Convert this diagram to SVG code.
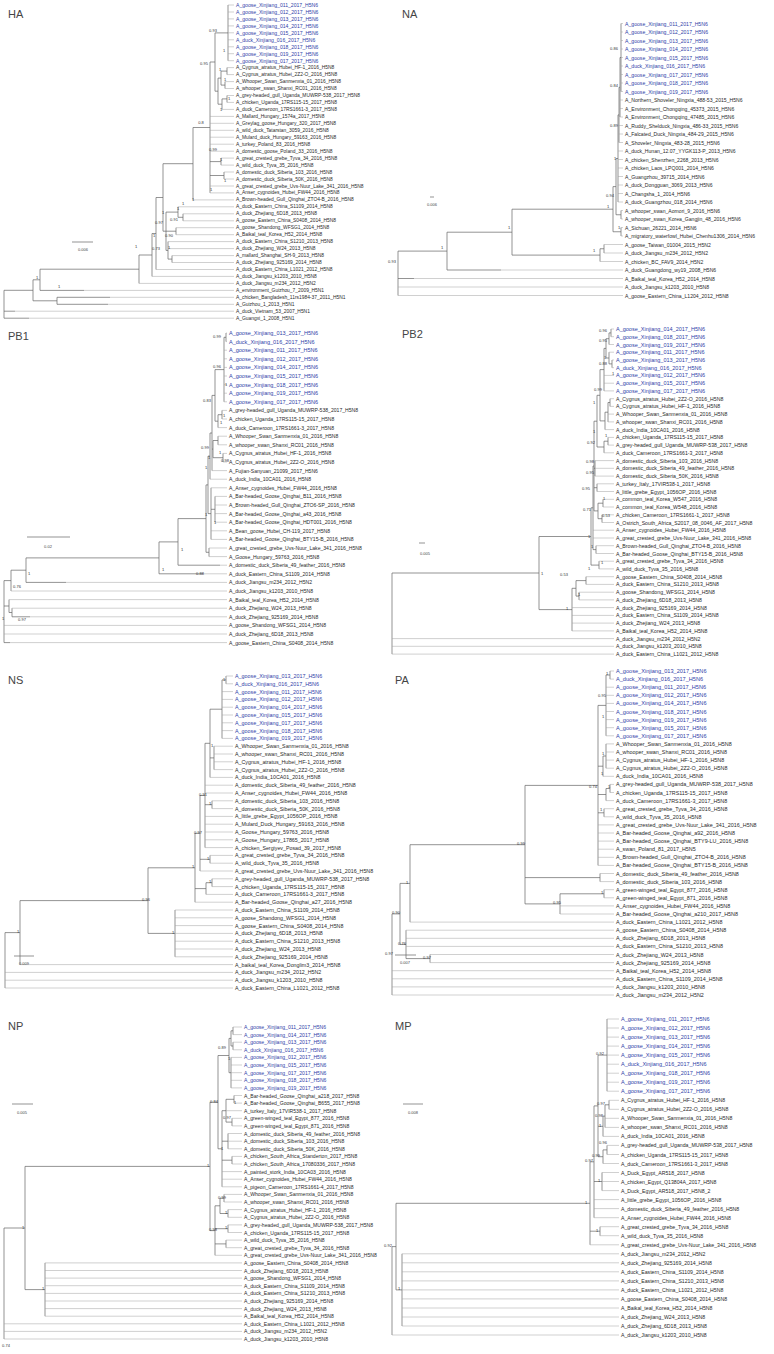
<svg xmlns="http://www.w3.org/2000/svg" width="774" height="1354" viewBox="0 0 774 1354">
<style>
.bg{fill:#fff}
.br{fill:none;stroke:#666;stroke-width:0.7}
.lf{fill:none;stroke:#a0a0a0;stroke-width:0.5}
.tx{font-family:"Liberation Sans",Arial,sans-serif;fill:#2a2a2a;dominant-baseline:central}
.bl{fill:#3041a8}
.sp{font-family:"Liberation Sans",Arial,sans-serif;font-size:4px;fill:#333;text-anchor:middle;dominant-baseline:central}
.sc{font-family:"Liberation Sans",Arial,sans-serif;font-size:4px;fill:#444;text-anchor:middle;dominant-baseline:central}
.ttl{font-family:"Liberation Sans",Arial,sans-serif;font-size:11px;fill:#444}
</style>
<rect class="bg" width="774" height="1354"/>

<!-- ===================== HA ===================== -->
<g id="panel-HA">
<text id="HA-title" class="ttl" x="8" y="18">HA</text>
<g id="HA-edges">
<path class="br" d="M4,290.3V318.2M4,290.3H33M33,279.8V300.8M33,279.8H40M33,300.8H57M40,269.2V290.4M40,269.2H139M57,297.3V304.3M139,255V283.4M139,255H152M152,233.5V276.4M152,233.5H156M156,197.5V269.5M156,197.5H163M163,163.7V231.2M163,163.7H193M163,231.2H166M193,127.5V199.9M193,127.5H210M166,212.1V250.4M166,212.1H178M166,231.2H176M166,250.4H168M178,206.8V217.3M178,217.3H183M183,213.8V220.8M176,227.7V234.7M168,241.6V259.1M168,259.1H172M172,255.6V262.5M210,62V192.9M210,62H215M210,161.6H221M210,175.5H224M221,158.1V165.1M224,172V179M215,32.9V91.2M215,32.9H228M215,91.2H218M228,5V60.7M218,78.1V104.2M218,78.1H221M218,104.2H222M221,71.1V85.1M221,71.1H227M221,85.1H225M227,67.6V74.6M225,81.6V88.5M222,98.9V109.4M222,98.9H227M227,95.5V102.4M40,290.4H84M57,297.3H110M57,304.3H108M4,311.2H15M4,318.2H29"/>
<path class="lf" d="M228,5H234M228,12H234M228,18.9H234M228,25.9H234M228,32.8H234M228,39.8H234M228,46.8H234M228,53.7H234M228,60.7H234M227,67.6H234M227,74.6H234M225,81.6H234M225,88.5H234M227,95.5H234M227,102.4H234M222,109.4H234M210,116.4H234M210,123.3H234M210,130.3H234M210,137.2H234M210,144.2H234M210,151.2H234M221,158.1H234M221,165.1H234M224,172H234M224,179H234M210,186H234M210,192.9H234M193,199.9H234M178,206.8H234M183,213.8H234M183,220.8H234M176,227.7H234M176,234.7H234M168,241.6H234M168,248.6H234M172,255.6H234M172,262.5H234M156,269.5H234M152,276.4H234M139,283.4H234M84,290.4H234M110,297.3H234M108,304.3H234M15,311.2H234M29,318.2H234"/>
</g>
<g id="HA-support">
<text class="sp" x="213" y="30">0.93</text><text class="sp" x="224" y="50">1</text><text class="sp" x="204" y="63">0.95</text><text class="sp" x="220" y="69">1</text><text class="sp" x="225" y="79">1</text><text class="sp" x="229" y="98">1</text><text class="sp" x="201" y="122">0.8</text><text class="sp" x="221" y="109">1</text><text class="sp" x="213" y="149">0.99</text><text class="sp" x="221" y="159">1</text><text class="sp" x="225" y="180">1</text><text class="sp" x="211" y="189">1</text><text class="sp" x="193" y="199">1</text><text class="sp" x="183" y="203">1</text><text class="sp" x="178" y="208">1</text><text class="sp" x="159" y="222">0.97</text><text class="sp" x="174" y="219">0.91</text><text class="sp" x="163" y="212">1</text><text class="sp" x="169" y="235">0.90</text><text class="sp" x="169" y="247">1</text><text class="sp" x="154" y="235">1</text><text class="sp" x="156" y="248">0.73</text><text class="sp" x="136" y="246">1</text><text class="sp" x="37" y="277">1</text><text class="sp" x="59" y="286">1</text>
</g>
<g id="HA-scale"><path class="br" d="M72,242H93"/><text class="sc" x="83" y="249">0.006</text></g>
<g id="HA-taxa" class="tx" font-size="4.9">
<text id="HA-t0" class="bl" font-size="5.1" x="236" y="5">A_goose_Xinjiang_011_2017_H5N6</text>
<text id="HA-t1" class="bl" font-size="5.1" x="236" y="12">A_goose_Xinjiang_012_2017_H5N6</text>
<text id="HA-t2" class="bl" font-size="5.1" x="236" y="18.9">A_goose_Xinjiang_013_2017_H5N6</text>
<text id="HA-t3" class="bl" font-size="5.1" x="236" y="25.9">A_goose_Xinjiang_014_2017_H5N6</text>
<text id="HA-t4" class="bl" font-size="5.1" x="236" y="32.8">A_goose_Xinjiang_015_2017_H5N6</text>
<text id="HA-t5" class="bl" font-size="5.1" x="236" y="39.8">A_duck_Xinjiang_016_2017_H5N6</text>
<text id="HA-t6" class="bl" font-size="5.1" x="236" y="46.8">A_goose_Xinjiang_018_2017_H5N6</text>
<text id="HA-t7" class="bl" font-size="5.1" x="236" y="53.7">A_goose_Xinjiang_019_2017_H5N6</text>
<text id="HA-t8" class="bl" font-size="5.1" x="236" y="60.7">A_goose_Xinjiang_017_2017_H5N6</text>
<text id="HA-t9" x="236" y="67.6">A_Cygnus_atratus_Hubei_HF-1_2016_H5N8</text>
<text id="HA-t10" x="236" y="74.6">A_Cygnus_atratus_Hubei_2Z2-O_2016_H5N8</text>
<text id="HA-t11" x="236" y="81.6">A_Whooper_Swan_Sanmenxia_01_2016_H5N8</text>
<text id="HA-t12" x="236" y="88.5">A_whooper_swan_Shanxi_RC01_2016_H5N8</text>
<text id="HA-t13" x="236" y="95.5">A_grey-headed_gull_Uganda_MUWRP-538_2017_H5N8</text>
<text id="HA-t14" x="236" y="102.4">A_chicken_Uganda_17RS115-15_2017_H5N8</text>
<text id="HA-t15" x="236" y="109.4">A_duck_Cameroon_17RS1661-3_2017_H5N8</text>
<text id="HA-t16" x="236" y="116.4">A_Mallard_Hungary_1574a_2017_H5N8</text>
<text id="HA-t17" x="236" y="123.3">A_Greylag_goose_Hungary_320_2017_H5N8</text>
<text id="HA-t18" x="236" y="130.3">A_wild_duck_Tatarstan_3059_2016_H5N8</text>
<text id="HA-t19" x="236" y="137.2">A_Mulard_duck_Hungary_59163_2016_H5N8</text>
<text id="HA-t20" x="236" y="144.2">A_turkey_Poland_83_2016_H5N8</text>
<text id="HA-t21" x="236" y="151.2">A_domestic_goose_Poland_33_2016_H5N8</text>
<text id="HA-t22" x="236" y="158.1">A_great_crested_grebe_Tyva_34_2016_H5N8</text>
<text id="HA-t23" x="236" y="165.1">A_wild_duck_Tyva_35_2016_H5N8</text>
<text id="HA-t24" x="236" y="172">A_domestic_duck_Siberia_103_2016_H5N8</text>
<text id="HA-t25" x="236" y="179">A_domestic_duck_Siberia_50K_2016_H5N8</text>
<text id="HA-t26" x="236" y="186">A_great_crested_grebe_Uvs-Nuur_Lake_341_2016_H5N8</text>
<text id="HA-t27" x="236" y="192.9">A_Anser_cygnoides_Hubei_FW44_2016_H5N8</text>
<text id="HA-t28" x="236" y="199.9">A_Brown-headed_Gull_Qinghai_ZTO4-B_2016_H5N8</text>
<text id="HA-t29" x="236" y="206.8">A_duck_Eastern_China_S1109_2014_H5N8</text>
<text id="HA-t30" x="236" y="213.8">A_duck_Zhejiang_6D18_2013_H5N8</text>
<text id="HA-t31" x="236" y="220.8">A_goose_Eastern_China_S0408_2014_H5N8</text>
<text id="HA-t32" x="236" y="227.7">A_goose_Shandong_WFSG1_2014_H5N8</text>
<text id="HA-t33" x="236" y="234.7">A_Baikal_teal_Korea_H52_2014_H5N8</text>
<text id="HA-t34" x="236" y="241.6">A_duck_Eastern_China_S1210_2013_H5N8</text>
<text id="HA-t35" x="236" y="248.6">A_duck_Zhejiang_W24_2013_H5N8</text>
<text id="HA-t36" x="236" y="255.6">A_mallard_Shanghai_SH-9_2013_H5N8</text>
<text id="HA-t37" x="236" y="262.5">A_duck_Zhejiang_925169_2014_H5N8</text>
<text id="HA-t38" x="236" y="269.5">A_duck_Eastern_China_L1021_2012_H5N8</text>
<text id="HA-t39" x="236" y="276.4">A_duck_Jiangsu_k1203_2010_H5N8</text>
<text id="HA-t40" x="236" y="283.4">A_duck_Jiangsu_m234_2012_H5N2</text>
<text id="HA-t41" x="236" y="290.4">A_environment_Guizhou_7_2009_H5N1</text>
<text id="HA-t42" x="236" y="297.3">A_chicken_Bangladesh_11rs1984-37_2011_H5N1</text>
<text id="HA-t43" x="236" y="304.3">A_Guizhou_1_2013_H5N1</text>
<text id="HA-t44" x="236" y="311.2">A_duck_Vietnam_53_2007_H5N1</text>
<text id="HA-t45" x="236" y="318.2">A_Guangxi_1_2008_H5N1</text>
</g>
</g>

<!-- ===================== NA ===================== -->
<g id="panel-NA">
<text id="NA-title" class="ttl" x="402" y="18">NA</text>
<g id="NA-edges">
<path class="br" d="M398,251.1V295.5M398,251.1H447M447,232.2V270M447,232.2H512M447,270H501M512,209.2V255.1M512,209.2H613M512,255.1H600M600,248.75V261.5M600,248.75H604M604,244.5V253M613,186.6V231.75M613,186.6H616M613,231.75H621M621,227.5V236M616,158.5V214.75M616,158.5H618M616,214.75H621M621,210.5V219M618,114.9V202M618,114.9H619M619,87.3V142.5M619,87.3H620M620,57.5V117M620,57.5H621M621,23.5V91.5M398,278.5H414"/>
<path class="lf" d="M621,23.5H623M621,32H623M621,40.5H623M621,49H623M621,57.5H623M621,66H623M621,74.5H623M621,83H623M621,91.5H623M620,100H623M620,108.5H623M620,117H623M619,125.5H623M619,134H623M619,142.5H623M618,151H623M618,159.5H623M618,168H623M618,176.5H623M618,185H623M618,193.5H623M618,202H623M621,210.5H623M621,219H623M621,227.5H623M621,236H623M604,244.5H623M604,253H623M600,261.5H623M501,270H623M414,278.5H623M398,287H623M398,295.5H623"/>
</g>
<g id="NA-support">
<text class="sp" x="614" y="48">0.86</text><text class="sp" x="614" y="85" fill="#888">0.84</text><text class="sp" x="614" y="125">0.89</text><text class="sp" x="615" y="158">1</text><text class="sp" x="610" y="195">0.94</text><text class="sp" x="608" y="206">1</text><text class="sp" x="619" y="227">1</text><text class="sp" x="594" y="250">1</text><text class="sp" x="509" y="227">1</text><text class="sp" x="442" y="247">1</text><text class="sp" x="392" y="261">0.93</text>
</g>
<g id="NA-scale"><path class="br" d="M430,197H434"/><text class="sc" x="432" y="204">0.006</text></g>
<g id="NA-taxa" class="tx" font-size="5.1">
<text id="NA-t0" class="bl" font-size="5.15" x="625" y="23.5">A_goose_Xinjiang_011_2017_H5N6</text>
<text id="NA-t1" class="bl" font-size="5.15" x="625" y="32">A_goose_Xinjiang_012_2017_H5N6</text>
<text id="NA-t2" class="bl" font-size="5.15" x="625" y="40.5">A_goose_Xinjiang_013_2017_H5N6</text>
<text id="NA-t3" class="bl" font-size="5.15" x="625" y="49">A_goose_Xinjiang_014_2017_H5N6</text>
<text id="NA-t4" class="bl" font-size="5.15" x="625" y="57.5">A_goose_Xinjiang_015_2017_H5N6</text>
<text id="NA-t5" class="bl" font-size="5.15" x="625" y="66">A_duck_Xinjiang_016_2017_H5N6</text>
<text id="NA-t6" class="bl" font-size="5.15" x="625" y="74.5">A_goose_Xinjiang_017_2017_H5N6</text>
<text id="NA-t7" class="bl" font-size="5.15" x="625" y="83">A_goose_Xinjiang_018_2017_H5N6</text>
<text id="NA-t8" class="bl" font-size="5.15" x="625" y="91.5">A_goose_Xinjiang_019_2017_H5N6</text>
<text id="NA-t9" x="625" y="100">A_Northern_Shoveler_Ningxia_488-53_2015_H5N6</text>
<text id="NA-t10" x="625" y="108.5">A_Environment_Chongqing_45373_2015_H5N6</text>
<text id="NA-t11" x="625" y="117">A_Environment_Chongqing_47485_2015_H5N6</text>
<text id="NA-t12" x="625" y="125.5">A_Ruddy_Shelduck_Ningxia_486-33_2015_H5N6</text>
<text id="NA-t13" x="625" y="134">A_Falcated_Duck_Ningxia_484-29_2015_H5N6</text>
<text id="NA-t14" x="625" y="142.5">A_Shoveler_Ningxia_483-28_2015_H5N6</text>
<text id="NA-t15" x="625" y="151">A_duck_Hunan_12.07_YYGK113-P_2013_H5N6</text>
<text id="NA-t16" x="625" y="159.5">A_chicken_Shenzhen_2268_2013_H5N6</text>
<text id="NA-t17" x="625" y="168">A_chicken_Laos_LPQ001_2014_H5N6</text>
<text id="NA-t18" x="625" y="176.5">A_Guangzhou_39715_2014_H5N6</text>
<text id="NA-t19" x="625" y="185">A_duck_Dongguan_3069_2013_H5N6</text>
<text id="NA-t20" x="625" y="193.5">A_Changsha_1_2014_H5N6</text>
<text id="NA-t21" x="625" y="202">A_duck_Guangzhou_018_2014_H5N6</text>
<text id="NA-t22" x="625" y="210.5">A_whooper_swan_Aomori_9_2016_H5N6</text>
<text id="NA-t23" x="625" y="219">A_whooper_swan_Korea_Gangjin_48_2016_H5N6</text>
<text id="NA-t24" x="625" y="227.5">A_Sichuan_26221_2014_H5N6</text>
<text id="NA-t25" x="625" y="236">A_migratory_waterfowl_Hubei_Chenhu1306_2014_H5N6</text>
<text id="NA-t26" x="625" y="244.5">A_goose_Taiwan_01004_2015_H5N2</text>
<text id="NA-t27" x="625" y="253">A_duck_Jiangsu_m234_2012_H5N2</text>
<text id="NA-t28" x="625" y="261.5">A_chicken_BC_FAV9_2014_H5N2</text>
<text id="NA-t29" x="625" y="270">A_duck_Guangdong_wy19_2008_H5N6</text>
<text id="NA-t30" x="625" y="278.5">A_Baikal_teal_Korea_H52_2014_H5N8</text>
<text id="NA-t31" x="625" y="287">A_duck_Jiangsu_k1203_2010_H5N8</text>
<text id="NA-t32" x="625" y="295.5">A_goose_Eastern_China_L1204_2012_H5N8</text>
</g>
</g>

<!-- ===================== PB1 ===================== -->
<g id="panel-PB1">
<text id="PB1-title" class="ttl" x="8" y="340">PB1</text>
<g id="PB1-edges">
<path class="br" d="M226,333V341.6M224,337.3V401.8M224,337.3H226M222,410.4V419M218,414.7V427.6M218,414.7H222M215,369.6V421.2M215,369.6H224M215,421.2H218M218,436.2V444.8M223,453.4V462M213,440.5V457.7M213,440.5H218M213,457.7H223M212,395.4V470.6M212,395.4H215M212,449.1H213M210,433V479.2M210,433H212M215,496.4V522.2M211,487.8V539.4M211,509.3H215M208,456.1V513.6M208,456.1H210M208,513.6H211M209,548V556.6M206,484.9V552.3M206,484.9H208M206,552.3H209M178,518.6V565.2M178,518.6H206M178,565.2H220M159,541.9V573.8M159,541.9H178M159,573.8H203M26,557.9V582.4M26,557.9H159M26,582.4H66M11,570.2V591M11,570.2H26M12,608.2V616.8M12,616.8H30M9,599.6V612.5M9,612.5H12M4,580.6V642.6M4,580.6H11M4,606H9M4,642.6H10"/>
<path class="lf" d="M226,333H227M226,341.6H227M224,350.2H227M224,358.8H227M224,367.4H227M224,376H227M224,384.6H227M224,393.2H227M224,401.8H227M222,410.4H227M222,419H227M218,427.6H227M218,436.2H227M218,444.8H227M223,453.4H227M223,462H227M212,470.6H227M210,479.2H227M211,487.8H227M215,496.4H227M215,505H227M215,513.6H227M215,522.2H227M211,530.8H227M211,539.4H227M209,548H227M209,556.6H227M220,565.2H227M203,573.8H227M66,582.4H227M11,591H227M9,599.6H227M12,608.2H227M30,616.8H227M4,625.4H227M4,634H227M10,642.6H227"/>
</g>
<g id="PB1-support">
<text class="sp" x="217" y="336">0.99</text><text class="sp" x="217" y="366">0.96</text><text class="sp" x="226" y="384">1</text><text class="sp" x="207" y="400">0.83</text><text class="sp" x="224" y="415">1</text><text class="sp" x="221" y="422">1</text><text class="sp" x="205" y="447">0.99</text><text class="sp" x="209" y="457">1</text><text class="sp" x="220" y="452">1</text><text class="sp" x="225" y="460">0.98</text><text class="sp" x="206" y="467">1</text><text class="sp" x="206" y="514">1</text><text class="sp" x="215" y="522">1</text><text class="sp" x="200" y="573">0.88</text><text class="sp" x="182" y="549">1</text><text class="sp" x="163" y="569">1</text><text class="sp" x="29" y="573">1</text><text class="sp" x="17" y="586">0.76</text><text class="sp" x="22" y="619">0.97</text><text class="sp" x="3" y="618">1</text>
</g>
<g id="PB1-scale"><path class="br" d="M27,537H70"/><text class="sc" x="48" y="546">0.02</text></g>
<g id="PB1-taxa" class="tx" font-size="5.1">
<text id="PB1-t0" class="bl" font-size="5.5" x="229" y="333">A_goose_Xinjiang_013_2017_H5N6</text>
<text id="PB1-t1" class="bl" font-size="5.5" x="229" y="341.6">A_duck_Xinjiang_016_2017_H5N6</text>
<text id="PB1-t2" class="bl" font-size="5.5" x="229" y="350.2">A_goose_Xinjiang_011_2017_H5N6</text>
<text id="PB1-t3" class="bl" font-size="5.5" x="229" y="358.8">A_goose_Xinjiang_012_2017_H5N6</text>
<text id="PB1-t4" class="bl" font-size="5.5" x="229" y="367.4">A_goose_Xinjiang_014_2017_H5N6</text>
<text id="PB1-t5" class="bl" font-size="5.5" x="229" y="376">A_goose_Xinjiang_015_2017_H5N6</text>
<text id="PB1-t6" class="bl" font-size="5.5" x="229" y="384.6">A_goose_Xinjiang_018_2017_H5N6</text>
<text id="PB1-t7" class="bl" font-size="5.5" x="229" y="393.2">A_goose_Xinjiang_019_2017_H5N6</text>
<text id="PB1-t8" class="bl" font-size="5.5" x="229" y="401.8">A_goose_Xinjiang_017_2017_H5N6</text>
<text id="PB1-t9" x="229" y="410.4">A_grey-headed_gull_Uganda_MUWRP-538_2017_H5N8</text>
<text id="PB1-t10" x="229" y="419">A_chicken_Uganda_17RS115-15_2017_H5N8</text>
<text id="PB1-t11" x="229" y="427.6">A_duck_Cameroon_17RS1661-3_2017_H5N8</text>
<text id="PB1-t12" x="229" y="436.2">A_Whooper_Swan_Sanmenxia_01_2016_H5N8</text>
<text id="PB1-t13" x="229" y="444.8">A_whooper_swan_Shanxi_RC01_2016_H5N8</text>
<text id="PB1-t14" x="229" y="453.4">A_Cygnus_atratus_Hubei_HF-1_2016_H5N8</text>
<text id="PB1-t15" x="229" y="462">A_Cygnus_atratus_Hubei_2Z2-O_2016_H5N8</text>
<text id="PB1-t16" x="229" y="470.6">A_Fujian-Sanyuan_21099_2017_H5N6</text>
<text id="PB1-t17" x="229" y="479.2">A_duck_India_10CA01_2016_H5N8</text>
<text id="PB1-t18" x="229" y="487.8">A_Anser_cygnoides_Hubei_FW44_2016_H5N8</text>
<text id="PB1-t19" x="229" y="496.4">A_Bar-headed_Goose_Qinghai_B11_2016_H5N8</text>
<text id="PB1-t20" x="229" y="505">A_Brown-headed_Gull_Qinghai_ZTO6-SP_2016_H5N8</text>
<text id="PB1-t21" x="229" y="513.6">A_Bar-headed_Goose_Qinghai_a43_2016_H5N8</text>
<text id="PB1-t22" x="229" y="522.2">A_Bar-headed_Goose_Qinghai_HDT001_2016_H5N8</text>
<text id="PB1-t23" x="229" y="530.8">A_Bean_goose_Hubei_CH-119_2017_H5N8</text>
<text id="PB1-t24" x="229" y="539.4">A_Bar-headed_Goose_Qinghai_BTY15-B_2016_H5N8</text>
<text id="PB1-t25" x="229" y="548">A_great_crested_grebe_Uvs-Nuur_Lake_341_2016_H5N8</text>
<text id="PB1-t26" x="229" y="556.6">A_Goose_Hungary_59763_2016_H5N8</text>
<text id="PB1-t27" x="229" y="565.2">A_domestic_duck_Siberia_49_feather_2016_H5N8</text>
<text id="PB1-t28" x="229" y="573.8">A_duck_Eastern_China_S1109_2014_H5N8</text>
<text id="PB1-t29" x="229" y="582.4">A_duck_Jiangsu_m234_2012_H5N2</text>
<text id="PB1-t30" x="229" y="591">A_duck_Jiangsu_k1203_2010_H5N8</text>
<text id="PB1-t31" x="229" y="599.6">A_Baikal_teal_Korea_H52_2014_H5N8</text>
<text id="PB1-t32" x="229" y="608.2">A_duck_Zhejiang_W24_2013_H5N8</text>
<text id="PB1-t33" x="229" y="616.8">A_duck_Zhejiang_925169_2014_H5N8</text>
<text id="PB1-t34" x="229" y="625.4">A_goose_Shandong_WFSG1_2014_H5N8</text>
<text id="PB1-t35" x="229" y="634">A_duck_Zhejiang_6D18_2013_H5N8</text>
<text id="PB1-t36" x="229" y="642.6">A_goose_Eastern_China_S0408_2014_H5N8</text>
</g>
</g>

<!-- ===================== PB2 ===================== -->
<g id="panel-PB2">
<text id="PB2-title" class="ttl" x="402" y="338">PB2</text>
<g id="PB2-edges">
<path class="br" d="M611,329V336.7M609,332.9V344.5M609,332.9H611M612,360V367.7M609,352.2V363.9M609,363.9H612M606,338.7V358M606,338.7H609M606,358H609M604,348.4V390.9M604,348.4H606M610,398.7V406.4M608,402.5V421.9M608,402.5H610M605,412.2V429.6M605,412.2H608M600,369.6V420.9M600,369.6H604M600,420.9H605M608,437.4V445.1M604,441.2V452.8M604,441.2H608M597,395.3V447M597,395.3H600M597,447H604M595,460.6V476.1M597,483.8V491.5M603,499.3V507M602,514.8V522.5M598,503.2V518.7M598,503.2H603M598,518.7H602M594,421.2V510.9M594,421.2H597M594,468.3H595M594,487.7H597M594,510.9H598M596,545.7V553.5M593,466V549.6M593,466H594M593,549.6H596M599,561.2V568.9M591,507.8V565.1M591,507.8H593M591,565.1H599M586,576.7V584.4M579,592.2V599.9M576,580.6V596.1M576,580.6H586M576,596.1H579M572,588.3V630.9M572,588.3H576M539,536.5V609.6M539,536.5H591M539,609.6H572M392,573V654.1M392,573H539"/>
<path class="lf" d="M611,329H614M611,336.7H614M609,344.5H614M609,352.2H614M612,360H614M612,367.7H614M604,375.4H614M604,383.2H614M604,390.9H614M610,398.7H614M610,406.4H614M608,414.1H614M608,421.9H614M605,429.6H614M608,437.4H614M608,445.1H614M604,452.8H614M595,460.6H614M595,468.3H614M595,476.1H614M597,483.8H614M597,491.5H614M603,499.3H614M603,507H614M602,514.8H614M602,522.5H614M593,530.2H614M593,538H614M596,545.7H614M596,553.5H614M599,561.2H614M599,568.9H614M586,576.7H614M586,584.4H614M579,592.2H614M579,599.9H614M572,607.6H614M572,615.4H614M572,623.1H614M572,630.9H614M392,638.6H614M392,646.3H614M392,654.1H614"/>
</g>
<g id="PB2-support">
<text class="sp" x="603" y="330">0.96</text><text class="sp" x="603" y="340">0.95</text><text class="sp" x="605" y="357">1</text><text class="sp" x="603" y="363">0.88</text><text class="sp" x="613" y="373">1</text><text class="sp" x="598" y="389">0.99</text><text class="sp" x="594" y="402">1</text><text class="sp" x="594" y="431">1</text><text class="sp" x="591" y="442">0.92</text><text class="sp" x="606" y="435">1</text><text class="sp" x="590" y="461">0.98</text><text class="sp" x="590" y="472">0.95</text><text class="sp" x="586" y="488">0.95</text><text class="sp" x="604" y="498">1</text><text class="sp" x="587" y="509">0.71</text><text class="sp" x="606" y="515">0.53</text><text class="sp" x="589" y="536">1</text><text class="sp" x="592" y="546">1</text><text class="sp" x="602" y="562">1</text><text class="sp" x="542" y="573">1</text><text class="sp" x="564" y="574">0.53</text><text class="sp" x="589" y="568">1</text><text class="sp" x="579" y="594">1</text><text class="sp" x="567" y="608">1</text>
</g>
<g id="PB2-scale"><path class="br" d="M419,543H425"/><text class="sc" x="425" y="553">0.005</text></g>
<g id="PB2-taxa" class="tx" font-size="5.2">
<text id="PB2-t0" class="bl" font-size="5.5" x="616" y="329">A_goose_Xinjiang_014_2017_H5N6</text>
<text id="PB2-t1" class="bl" font-size="5.5" x="616" y="336.7">A_goose_Xinjiang_018_2017_H5N6</text>
<text id="PB2-t2" class="bl" font-size="5.5" x="616" y="344.5">A_goose_Xinjiang_019_2017_H5N6</text>
<text id="PB2-t3" class="bl" font-size="5.5" x="616" y="352.2">A_goose_Xinjiang_011_2017_H5N6</text>
<text id="PB2-t4" class="bl" font-size="5.5" x="616" y="360">A_goose_Xinjiang_013_2017_H5N6</text>
<text id="PB2-t5" class="bl" font-size="5.5" x="616" y="367.7">A_duck_Xinjiang_016_2017_H5N6</text>
<text id="PB2-t6" class="bl" font-size="5.5" x="616" y="375.4">A_goose_Xinjiang_012_2017_H5N6</text>
<text id="PB2-t7" class="bl" font-size="5.5" x="616" y="383.2">A_goose_Xinjiang_015_2017_H5N6</text>
<text id="PB2-t8" class="bl" font-size="5.5" x="616" y="390.9">A_goose_Xinjiang_017_2017_H5N6</text>
<text id="PB2-t9" x="616" y="398.7">A_Cygnus_atratus_Hubei_2Z2-O_2016_H5N8</text>
<text id="PB2-t10" x="616" y="406.4">A_Cygnus_atratus_Hubei_HF-1_2016_H5N8</text>
<text id="PB2-t11" x="616" y="414.1">A_Whooper_Swan_Sanmenxia_01_2016_H5N8</text>
<text id="PB2-t12" x="616" y="421.9">A_whooper_swan_Shanxi_RC01_2016_H5N8</text>
<text id="PB2-t13" x="616" y="429.6">A_duck_India_10CA01_2016_H5N8</text>
<text id="PB2-t14" x="616" y="437.4">A_chicken_Uganda_17RS115-15_2017_H5N8</text>
<text id="PB2-t15" x="616" y="445.1">A_grey-headed_gull_Uganda_MUWRP-538_2017_H5N8</text>
<text id="PB2-t16" x="616" y="452.8">A_duck_Cameroon_17RS1661-3_2017_H5N8</text>
<text id="PB2-t17" x="616" y="460.6">A_domestic_duck_Siberia_103_2016_H5N8</text>
<text id="PB2-t18" x="616" y="468.3">A_domestic_duck_Siberia_49_feather_2016_H5N8</text>
<text id="PB2-t19" x="616" y="476.1">A_domestic_duck_Siberia_50K_2016_H5N8</text>
<text id="PB2-t20" x="616" y="483.8">A_turkey_Italy_17VIR538-1_2017_H5N8</text>
<text id="PB2-t21" x="616" y="491.5">A_little_grebe_Egypt_1056OP_2016_H5N8</text>
<text id="PB2-t22" x="616" y="499.3">A_common_teal_Korea_W547_2016_H5N8</text>
<text id="PB2-t23" x="616" y="507">A_common_teal_Korea_W548_2016_H5N8</text>
<text id="PB2-t24" x="616" y="514.8">A_chicken_Cameroon_17RS1661-1_2017_H5N8</text>
<text id="PB2-t25" x="616" y="522.5">A_Ostrich_South_Africa_S2017_08_0046_AF_2017_H5N8</text>
<text id="PB2-t26" x="616" y="530.2">A_Anser_cygnoides_Hubei_FW44_2016_H5N8</text>
<text id="PB2-t27" x="616" y="538">A_great_crested_grebe_Uvs-Nuur_Lake_341_2016_H5N8</text>
<text id="PB2-t28" x="616" y="545.7">A_Brown-headed_Gull_Qinghai_ZTO4-B_2016_H5N8</text>
<text id="PB2-t29" x="616" y="553.5">A_Bar-headed_Goose_Qinghai_BTY15-B_2016_H5N8</text>
<text id="PB2-t30" x="616" y="561.2">A_great_crested_grebe_Tyva_34_2016_H5N8</text>
<text id="PB2-t31" x="616" y="568.9">A_wild_duck_Tyva_35_2016_H5N8</text>
<text id="PB2-t32" x="616" y="576.7">A_goose_Eastern_China_S0408_2014_H5N8</text>
<text id="PB2-t33" x="616" y="584.4">A_duck_Eastern_China_S1210_2013_H5N8</text>
<text id="PB2-t34" x="616" y="592.2">A_goose_Shandong_WFSG1_2014_H5N8</text>
<text id="PB2-t35" x="616" y="599.9">A_duck_Zhejiang_6D18_2013_H5N8</text>
<text id="PB2-t36" x="616" y="607.6">A_duck_Zhejiang_925169_2014_H5N8</text>
<text id="PB2-t37" x="616" y="615.4">A_duck_Eastern_China_S1109_2014_H5N8</text>
<text id="PB2-t38" x="616" y="623.1">A_duck_Zhejiang_W24_2013_H5N8</text>
<text id="PB2-t39" x="616" y="630.9">A_Baikal_teal_Korea_H52_2014_H5N8</text>
<text id="PB2-t40" x="616" y="638.6">A_duck_Jiangsu_m234_2012_H5N2</text>
<text id="PB2-t41" x="616" y="646.3">A_duck_Jiangsu_k1203_2010_H5N8</text>
<text id="PB2-t42" x="616" y="654.1">A_duck_Eastern_China_L1021_2012_H5N8</text>
</g>
</g>

<!-- ===================== NS ===================== -->
<g id="panel-NS">
<text id="NS-title" class="ttl" x="8" y="684">NS</text>
<g id="NS-edges">
<path class="br" d="M226,676V683.8M222,679.9V738.4M222,679.9H226M214,746.2V769.6M210,709.2V777.4M210,709.2H222M210,757.9H214M212,800.8V808.6M205,743.3V847.6M205,743.3H210M205,804.7H212M210,855.4V863.2M200,795.5V871M200,795.5H205M200,859.3H210M212,878.8V886.6M206,882.7V894.4M206,882.7H212M195,833.3V902.2M195,833.3H200M195,888.6H206M175,910V956.8M148,867.8V933.4M148,867.8H195M148,933.4H175M20,900.6V964.6M20,900.6H148M5,932.6V988M5,932.6H20"/>
<path class="lf" d="M226,676H233M226,683.8H233M222,691.6H233M222,699.4H233M222,707.2H233M222,715H233M222,722.8H233M222,730.6H233M222,738.4H233M214,746.2H233M214,754H233M214,761.8H233M214,769.6H233M210,777.4H233M205,785.2H233M205,793H233M212,800.8H233M212,808.6H233M205,816.4H233M205,824.2H233M205,832H233M205,839.8H233M205,847.6H233M210,855.4H233M210,863.2H233M200,871H233M212,878.8H233M212,886.6H233M206,894.4H233M195,902.2H233M175,910H233M175,917.8H233M175,925.6H233M175,933.4H233M175,941.2H233M175,949H233M175,956.8H233M20,964.6H233M5,972.4H233M5,980.2H233M5,988H233"/>
</g>
<g id="NS-support">
<text class="sp" x="224" y="679">1</text><text class="sp" x="212" y="745">1</text><text class="sp" x="203" y="794">0.91</text><text class="sp" x="210" y="803">1</text><text class="sp" x="198" y="832">0.97</text><text class="sp" x="208" y="858">1</text><text class="sp" x="210" y="881">1</text><text class="sp" x="193" y="866">1</text><text class="sp" x="173" y="932">1</text><text class="sp" x="146" y="899">0.96</text><text class="sp" x="18" y="931">1</text>
</g>
<g id="NS-scale"><path class="br" d="M14,956H34"/><text class="sc" x="24" y="963">0.009</text></g>
<g id="NS-taxa" class="tx" font-size="5.3">
<text id="NS-t0" class="bl" font-size="5.4" x="235" y="676">A_goose_Xinjiang_013_2017_H5N6</text>
<text id="NS-t1" class="bl" font-size="5.4" x="235" y="683.8">A_duck_Xinjiang_016_2017_H5N6</text>
<text id="NS-t2" class="bl" font-size="5.4" x="235" y="691.6">A_goose_Xinjiang_011_2017_H5N6</text>
<text id="NS-t3" class="bl" font-size="5.4" x="235" y="699.4">A_goose_Xinjiang_012_2017_H5N6</text>
<text id="NS-t4" class="bl" font-size="5.4" x="235" y="707.2">A_goose_Xinjiang_014_2017_H5N6</text>
<text id="NS-t5" class="bl" font-size="5.4" x="235" y="715">A_goose_Xinjiang_015_2017_H5N6</text>
<text id="NS-t6" class="bl" font-size="5.4" x="235" y="722.8">A_goose_Xinjiang_017_2017_H5N6</text>
<text id="NS-t7" class="bl" font-size="5.4" x="235" y="730.6">A_goose_Xinjiang_018_2017_H5N6</text>
<text id="NS-t8" class="bl" font-size="5.4" x="235" y="738.4">A_goose_Xinjiang_019_2017_H5N6</text>
<text id="NS-t9" x="235" y="746.2">A_Whooper_Swan_Sanmenxia_01_2016_H5N8</text>
<text id="NS-t10" x="235" y="754">A_whooper_swan_Shanxi_RC01_2016_H5N8</text>
<text id="NS-t11" x="235" y="761.8">A_Cygnus_atratus_Hubei_HF-1_2016_H5N8</text>
<text id="NS-t12" x="235" y="769.6">A_Cygnus_atratus_Hubei_2Z2-O_2016_H5N8</text>
<text id="NS-t13" x="235" y="777.4">A_duck_India_10CA01_2016_H5N8</text>
<text id="NS-t14" x="235" y="785.2">A_domestic_duck_Siberia_49_feather_2016_H5N8</text>
<text id="NS-t15" x="235" y="793">A_Anser_cygnoides_Hubei_FW44_2016_H5N8</text>
<text id="NS-t16" x="235" y="800.8">A_domestic_duck_Siberia_103_2016_H5N8</text>
<text id="NS-t17" x="235" y="808.6">A_domestic_duck_Siberia_50K_2016_H5N8</text>
<text id="NS-t18" x="235" y="816.4">A_little_grebe_Egypt_1056OP_2016_H5N8</text>
<text id="NS-t19" x="235" y="824.2">A_Mulard_Duck_Hungary_59163_2016_H5N8</text>
<text id="NS-t20" x="235" y="832">A_Goose_Hungary_59763_2016_H5N8</text>
<text id="NS-t21" x="235" y="839.8">A_Goose_Hungary_17865_2017_H5N8</text>
<text id="NS-t22" x="235" y="847.6">A_chicken_Sergiyev_Posad_39_2017_H5N8</text>
<text id="NS-t23" x="235" y="855.4">A_great_crested_grebe_Tyva_34_2016_H5N8</text>
<text id="NS-t24" x="235" y="863.2">A_wild_duck_Tyva_35_2016_H5N8</text>
<text id="NS-t25" x="235" y="871">A_great_crested_grebe_Uvs-Nuur_Lake_341_2016_H5N8</text>
<text id="NS-t26" x="235" y="878.8">A_grey-headed_gull_Uganda_MUWRP-538_2017_H5N8</text>
<text id="NS-t27" x="235" y="886.6">A_chicken_Uganda_17RS115-15_2017_H5N8</text>
<text id="NS-t28" x="235" y="894.4">A_duck_Cameroon_17RS1661-3_2017_H5N8</text>
<text id="NS-t29" x="235" y="902.2">A_Bar-headed_Goose_Qinghai_a27_2016_H5N8</text>
<text id="NS-t30" x="235" y="910">A_duck_Eastern_China_S1109_2014_H5N8</text>
<text id="NS-t31" x="235" y="917.8">A_goose_Shandong_WFSG1_2014_H5N8</text>
<text id="NS-t32" x="235" y="925.6">A_goose_Eastern_China_S0408_2014_H5N8</text>
<text id="NS-t33" x="235" y="933.4">A_duck_Zhejiang_6D18_2013_H5N8</text>
<text id="NS-t34" x="235" y="941.2">A_duck_Eastern_China_S1210_2013_H5N8</text>
<text id="NS-t35" x="235" y="949">A_duck_Zhejiang_W24_2013_H5N8</text>
<text id="NS-t36" x="235" y="956.8">A_duck_Zhejiang_925169_2014_H5N8</text>
<text id="NS-t37" x="235" y="964.6">A_baikal_teal_Korea_Donglim3_2014_H5N8</text>
<text id="NS-t38" x="235" y="972.4">A_duck_Jiangsu_m234_2012_H5N2</text>
<text id="NS-t39" x="235" y="980.2">A_duck_Jiangsu_k1203_2010_H5N8</text>
<text id="NS-t40" x="235" y="988">A_duck_Eastern_China_L1021_2012_H5N8</text>
</g>
</g>

<!-- ===================== PA ===================== -->
<g id="panel-PA">
<text id="PA-title" class="ttl" x="395" y="684">PA</text>
<g id="PA-edges">
<path class="br" d="M610,671V679.1M606,675V735.8M606,675H610M606,743.9V768.2M603,756V776.3M603,756H606M610,784.4V792.5M606,788.5V800.6M606,788.5H610M604,808.7V816.8M598,705.4V865.4M598,705.4H606M598,766.2H603M598,794.5H606M598,812.8H604M600,873.5V881.6M604,889.7V897.8M560,893.8V914M560,893.8H604M525,785.4V903.9M525,785.4H598M525,877.6H600M525,903.9H560M410,844.7V922.1M410,844.7H525M430,954.5V962.6M406,930.2V958.6M406,958.6H430M400,883.4V944.4M400,883.4H410M400,944.4H406M392,913.9V995M392,913.9H400"/>
<path class="lf" d="M610,671H614M610,679.1H614M606,687.2H614M606,695.3H614M606,703.4H614M606,711.5H614M606,719.6H614M606,727.7H614M606,735.8H614M606,743.9H614M606,752H614M606,760.1H614M606,768.2H614M603,776.3H614M610,784.4H614M610,792.5H614M606,800.6H614M604,808.7H614M604,816.8H614M598,824.9H614M598,833H614M598,841.1H614M598,849.2H614M598,857.3H614M598,865.4H614M600,873.5H614M600,881.6H614M604,889.7H614M604,897.8H614M560,905.9H614M560,914H614M410,922.1H614M406,930.2H614M406,938.3H614M406,946.4H614M430,954.5H614M430,962.6H614M392,970.7H614M392,978.8H614M392,986.9H614M392,995H614"/>
</g>
<g id="PA-support">
<text class="sp" x="607" y="673">1</text><text class="sp" x="602" y="695">0.95</text><text class="sp" x="603" y="716">1</text><text class="sp" x="603" y="753">1</text><text class="sp" x="602" y="773">1</text><text class="sp" x="609" y="786">1</text><text class="sp" x="601" y="809">1</text><text class="sp" x="593" y="786">0.74</text><text class="sp" x="521" y="843">0.99</text><text class="sp" x="557" y="902">0.95</text><text class="sp" x="602" y="892">1</text><text class="sp" x="407" y="882">1</text><text class="sp" x="396" y="912">0.90</text><text class="sp" x="402" y="943">0.76</text><text class="sp" x="427" y="957">0.97</text><text class="sp" x="389" y="953">0.97</text>
</g>
<g id="PA-scale"><path class="br" d="M395,955H416"/><text class="sc" x="405" y="962">0.007</text></g>
<g id="PA-taxa" class="tx" font-size="5.4">
<text id="PA-t0" class="bl" font-size="5.6" x="616" y="671">A_goose_Xinjiang_013_2017_H5N6</text>
<text id="PA-t1" class="bl" font-size="5.6" x="616" y="679.1">A_duck_Xinjiang_016_2017_H5N6</text>
<text id="PA-t2" class="bl" font-size="5.6" x="616" y="687.2">A_goose_Xinjiang_011_2017_H5N6</text>
<text id="PA-t3" class="bl" font-size="5.6" x="616" y="695.3">A_goose_Xinjiang_012_2017_H5N6</text>
<text id="PA-t4" class="bl" font-size="5.6" x="616" y="703.4">A_goose_Xinjiang_014_2017_H5N6</text>
<text id="PA-t5" class="bl" font-size="5.6" x="616" y="711.5">A_goose_Xinjiang_018_2017_H5N6</text>
<text id="PA-t6" class="bl" font-size="5.6" x="616" y="719.6">A_goose_Xinjiang_019_2017_H5N6</text>
<text id="PA-t7" class="bl" font-size="5.6" x="616" y="727.7">A_goose_Xinjiang_015_2017_H5N6</text>
<text id="PA-t8" class="bl" font-size="5.6" x="616" y="735.8">A_goose_Xinjiang_017_2017_H5N6</text>
<text id="PA-t9" x="616" y="743.9">A_Whooper_Swan_Sanmenxia_01_2016_H5N8</text>
<text id="PA-t10" x="616" y="752">A_whooper_swan_Shanxi_RC01_2016_H5N8</text>
<text id="PA-t11" x="616" y="760.1">A_Cygnus_atratus_Hubei_HF-1_2016_H5N8</text>
<text id="PA-t12" x="616" y="768.2">A_Cygnus_atratus_Hubei_2Z2-O_2016_H5N8</text>
<text id="PA-t13" x="616" y="776.3">A_duck_India_10CA01_2016_H5N8</text>
<text id="PA-t14" x="616" y="784.4">A_grey-headed_gull_Uganda_MUWRP-538_2017_H5N8</text>
<text id="PA-t15" x="616" y="792.5">A_chicken_Uganda_17RS115-15_2017_H5N8</text>
<text id="PA-t16" x="616" y="800.6">A_duck_Cameroon_17RS1661-3_2017_H5N8</text>
<text id="PA-t17" x="616" y="808.7">A_great_crested_grebe_Tyva_34_2016_H5N8</text>
<text id="PA-t18" x="616" y="816.8">A_wild_duck_Tyva_35_2016_H5N8</text>
<text id="PA-t19" x="616" y="824.9">A_great_crested_grebe_Uvs-Nuur_Lake_341_2016_H5N8</text>
<text id="PA-t20" x="616" y="833">A_Bar-headed_Goose_Qinghai_a92_2016_H5N8</text>
<text id="PA-t21" x="616" y="841.1">A_Bar-headed_Goose_Qinghai_BTY9-LU_2016_H5N8</text>
<text id="PA-t22" x="616" y="849.2">A_swan_Poland_81_2017_H5N5</text>
<text id="PA-t23" x="616" y="857.3">A_Brown-headed_Gull_Qinghai_ZTO4-B_2016_H5N8</text>
<text id="PA-t24" x="616" y="865.4">A_Bar-headed_Goose_Qinghai_BTY15-B_2016_H5N8</text>
<text id="PA-t25" x="616" y="873.5">A_domestic_duck_Siberia_49_feather_2016_H5N8</text>
<text id="PA-t26" x="616" y="881.6">A_domestic_duck_Siberia_103_2016_H5N8</text>
<text id="PA-t27" x="616" y="889.7">A_green-winged_teal_Egypt_877_2016_H5N8</text>
<text id="PA-t28" x="616" y="897.8">A_green-winged_teal_Egypt_871_2016_H5N8</text>
<text id="PA-t29" x="616" y="905.9">A_Anser_cygnoides_Hubei_FW44_2016_H5N8</text>
<text id="PA-t30" x="616" y="914">A_Bar-headed_Goose_Qinghai_a210_2017_H5N8</text>
<text id="PA-t31" x="616" y="922.1">A_duck_Eastern_China_L1021_2012_H5N8</text>
<text id="PA-t32" x="616" y="930.2">A_goose_Eastern_China_S0408_2014_H5N8</text>
<text id="PA-t33" x="616" y="938.3">A_duck_Zhejiang_6D18_2013_H5N8</text>
<text id="PA-t34" x="616" y="946.4">A_duck_Eastern_China_S1210_2013_H5N8</text>
<text id="PA-t35" x="616" y="954.5">A_duck_Zhejiang_W24_2013_H5N8</text>
<text id="PA-t36" x="616" y="962.6">A_duck_Zhejiang_925169_2014_H5N8</text>
<text id="PA-t37" x="616" y="970.7">A_Baikal_teal_Korea_H52_2014_H5N8</text>
<text id="PA-t38" x="616" y="978.8">A_duck_Eastern_China_S1109_2014_H5N8</text>
<text id="PA-t39" x="616" y="986.9">A_duck_Jiangsu_k1203_2010_H5N8</text>
<text id="PA-t40" x="616" y="995">A_duck_Jiangsu_m234_2012_H5N2</text>
</g>
</g>

<!-- ===================== NP ===================== -->
<g id="panel-NP">
<text id="NP-title" class="ttl" x="8" y="1030">NP</text>
<g id="NP-edges">
<path class="br" d="M233,1027V1034.6M233,1042.2V1049.8M231,1030.8V1046M231,1030.8H233M231,1046H233M231,1057.4V1087.9M229,1038.4V1072.7M229,1038.4H231M229,1072.7H231M234,1095.5V1103.1M232,1118.3V1125.9M226,1099.3V1122.1M226,1099.3H234M226,1122.1H232M228,1133.5V1148.8M232,1156.4V1164M222,1110.7V1186.8M222,1110.7H226M222,1141.2H228M222,1160.2H232M218,1055.5V1148.8M218,1055.5H229M218,1148.8H222M224,1194.4V1202M228,1209.6V1217.3M220,1198.2V1213.5M220,1198.2H224M220,1213.5H228M228,1224.9V1232.5M226,1240.1V1247.7M215,1205.8V1255.3M215,1205.8H220M215,1228.7H228M215,1243.9H226M210,1102.2V1230.6M210,1102.2H218M210,1230.6H215M45,1262.9V1316.2M25,1166.4V1289.6M25,1166.4H210M25,1289.6H45M4,1228V1339M4,1228H25"/>
<path class="lf" d="M233,1027H242M233,1034.6H242M233,1042.2H242M233,1049.8H242M231,1057.4H242M231,1065H242M231,1072.7H242M231,1080.3H242M231,1087.9H242M234,1095.5H242M234,1103.1H242M226,1110.7H242M232,1118.3H242M232,1125.9H242M228,1133.5H242M228,1141.2H242M228,1148.8H242M232,1156.4H242M232,1164H242M222,1171.6H242M222,1179.2H242M222,1186.8H242M224,1194.4H242M224,1202H242M228,1209.6H242M228,1217.3H242M228,1224.9H242M228,1232.5H242M226,1240.1H242M226,1247.7H242M215,1255.3H242M45,1262.9H242M45,1270.5H242M45,1278.1H242M45,1285.7H242M45,1293.4H242M45,1301H242M45,1308.6H242M45,1316.2H242M4,1323.8H242M4,1331.4H242M4,1339H242"/>
</g>
<g id="NP-support">
<text class="sp" x="222" y="1047">0.89</text><text class="sp" x="229" y="1058">1</text><text class="sp" x="235" y="1102">1</text><text class="sp" x="227" y="1117">0.97</text><text class="sp" x="222" y="1148">1</text><text class="sp" x="214" y="1101">0.84</text><text class="sp" x="222" y="1197">0.99</text><text class="sp" x="226" y="1212">1</text><text class="sp" x="226" y="1227">1</text><text class="sp" x="213" y="1229">0.98</text><text class="sp" x="208" y="1165">1</text><text class="sp" x="43" y="1288">1</text><text class="sp" x="23" y="1227">1</text><text class="sp" x="6" y="1345">0.74</text>
</g>
<g id="NP-scale"><path class="br" d="M12,1104H33"/><text class="sc" x="22" y="1112">0.005</text></g>
<g id="NP-taxa" class="tx" font-size="5.1">
<text id="NP-t0" class="bl" font-size="5.1" x="244" y="1027">A_goose_Xinjiang_011_2017_H5N6</text>
<text id="NP-t1" class="bl" font-size="5.1" x="244" y="1034.6">A_goose_Xinjiang_014_2017_H5N6</text>
<text id="NP-t2" class="bl" font-size="5.1" x="244" y="1042.2">A_goose_Xinjiang_013_2017_H5N6</text>
<text id="NP-t3" class="bl" font-size="5.1" x="244" y="1049.8">A_duck_Xinjiang_016_2017_H5N6</text>
<text id="NP-t4" class="bl" font-size="5.1" x="244" y="1057.4">A_goose_Xinjiang_012_2017_H5N6</text>
<text id="NP-t5" class="bl" font-size="5.1" x="244" y="1065">A_goose_Xinjiang_015_2017_H5N6</text>
<text id="NP-t6" class="bl" font-size="5.1" x="244" y="1072.7">A_goose_Xinjiang_017_2017_H5N6</text>
<text id="NP-t7" class="bl" font-size="5.1" x="244" y="1080.3">A_goose_Xinjiang_018_2017_H5N6</text>
<text id="NP-t8" class="bl" font-size="5.1" x="244" y="1087.9">A_goose_Xinjiang_019_2017_H5N6</text>
<text id="NP-t9" x="244" y="1095.5">A_Bar-headed_Goose_Qinghai_a218_2017_H5N8</text>
<text id="NP-t10" x="244" y="1103.1">A_Bar-headed_Goose_Qinghai_B655_2017_H5N8</text>
<text id="NP-t11" x="244" y="1110.7">A_turkey_Italy_17VIR538-1_2017_H5N8</text>
<text id="NP-t12" x="244" y="1118.3">A_green-winged_teal_Egypt_877_2016_H5N8</text>
<text id="NP-t13" x="244" y="1125.9">A_green-winged_teal_Egypt_871_2016_H5N8</text>
<text id="NP-t14" x="244" y="1133.5">A_domestic_duck_Siberia_49_feather_2016_H5N8</text>
<text id="NP-t15" x="244" y="1141.2">A_domestic_duck_Siberia_103_2016_H5N8</text>
<text id="NP-t16" x="244" y="1148.8">A_domestic_duck_Siberia_50K_2016_H5N8</text>
<text id="NP-t17" x="244" y="1156.4">A_chicken_South_Africa_Standerton_2017_H5N8</text>
<text id="NP-t18" x="244" y="1164">A_chicken_South_Africa_17080336_2017_H5N8</text>
<text id="NP-t19" x="244" y="1171.6">A_painted_stork_India_10CA03_2016_H5N8</text>
<text id="NP-t20" x="244" y="1179.2">A_Anser_cygnoides_Hubei_FW44_2016_H5N8</text>
<text id="NP-t21" x="244" y="1186.8">A_pigeon_Cameroon_17RS1661-4_2017_H5N8</text>
<text id="NP-t22" x="244" y="1194.4">A_Whooper_Swan_Sanmenxia_01_2016_H5N8</text>
<text id="NP-t23" x="244" y="1202">A_whooper_swan_Shanxi_RC01_2016_H5N8</text>
<text id="NP-t24" x="244" y="1209.6">A_Cygnus_atratus_Hubei_HF-1_2016_H5N8</text>
<text id="NP-t25" x="244" y="1217.3">A_Cygnus_atratus_Hubei_2Z2-O_2016_H5N8</text>
<text id="NP-t26" x="244" y="1224.9">A_grey-headed_gull_Uganda_MUWRP-538_2017_H5N8</text>
<text id="NP-t27" x="244" y="1232.5">A_chicken_Uganda_17RS115-15_2017_H5N8</text>
<text id="NP-t28" x="244" y="1240.1">A_wild_duck_Tyva_35_2016_H5N8</text>
<text id="NP-t29" x="244" y="1247.7">A_great_crested_grebe_Tyva_34_2016_H5N8</text>
<text id="NP-t30" x="244" y="1255.3">A_great_crested_grebe_Uvs-Nuur_Lake_341_2016_H5N8</text>
<text id="NP-t31" x="244" y="1262.9">A_goose_Eastern_China_S0408_2014_H5N8</text>
<text id="NP-t32" x="244" y="1270.5">A_duck_Zhejiang_6D18_2013_H5N8</text>
<text id="NP-t33" x="244" y="1278.1">A_goose_Shandong_WFSG1_2014_H5N8</text>
<text id="NP-t34" x="244" y="1285.7">A_duck_Eastern_China_S1109_2014_H5N8</text>
<text id="NP-t35" x="244" y="1293.4">A_duck_Eastern_China_S1210_2013_H5N8</text>
<text id="NP-t36" x="244" y="1301">A_duck_Zhejiang_925169_2014_H5N8</text>
<text id="NP-t37" x="244" y="1308.6">A_duck_Zhejiang_W24_2013_H5N8</text>
<text id="NP-t38" x="244" y="1316.2">A_Baikal_teal_Korea_H52_2014_H5N8</text>
<text id="NP-t39" x="244" y="1323.8">A_duck_Eastern_China_L1021_2012_H5N8</text>
<text id="NP-t40" x="244" y="1331.4">A_duck_Jiangsu_m234_2012_H5N2</text>
<text id="NP-t41" x="244" y="1339">A_duck_Jiangsu_k1203_2010_H5N8</text>
</g>
</g>

<!-- ===================== MP ===================== -->
<g id="panel-MP">
<text id="MP-title" class="ttl" x="395" y="1030">MP</text>
<g id="MP-edges">
<path class="br" d="M607,1019V1091.2M609,1100.3V1109.3M605,1104.8V1127.4M605,1104.8H609M603,1116.1V1136.4M603,1116.1H605M607,1145.4V1154.5M603,1149.9V1163.5M603,1149.9H607M598,1055.1V1156.7M598,1055.1H607M598,1126.3H603M598,1156.7H603M602,1172.5V1190.6M594,1105.9V1217.7M594,1105.9H598M594,1181.5H602M600,1226.7V1235.7M590,1161.8V1244.8M590,1161.8H594M590,1231.2H600M402,1253.8V1326M396,1203.3V1289.9M396,1203.3H590M396,1289.9H402M392,1246.6V1335M392,1246.6H396"/>
<path class="lf" d="M607,1019H619M607,1028H619M607,1037.1H619M607,1046.1H619M607,1055.1H619M607,1064.2H619M607,1073.2H619M607,1082.2H619M607,1091.2H619M609,1100.3H619M609,1109.3H619M605,1118.3H619M605,1127.4H619M603,1136.4H619M607,1145.4H619M607,1154.5H619M603,1163.5H619M602,1172.5H619M602,1181.5H619M602,1190.6H619M594,1199.6H619M594,1208.6H619M594,1217.7H619M600,1226.7H619M600,1235.7H619M590,1244.8H619M402,1253.8H619M402,1262.8H619M402,1271.8H619M402,1280.9H619M402,1289.9H619M402,1298.9H619M402,1308H619M402,1317H619M402,1326H619M392,1335H619"/>
</g>
<g id="MP-support">
<text class="sp" x="600" y="1053">0.92</text><text class="sp" x="601" y="1103">0.97</text><text class="sp" x="599" y="1115">0.98</text><text class="sp" x="600" y="1125">1</text><text class="sp" x="603" y="1142">0.96</text><text class="sp" x="596" y="1155">0.99</text><text class="sp" x="599" y="1180">1</text><text class="sp" x="589" y="1160">0.97</text><text class="sp" x="597" y="1230">1</text><text class="sp" x="586" y="1202">1</text><text class="sp" x="399" y="1288">1</text><text class="sp" x="388" y="1245">0.92</text>
</g>
<g id="MP-scale"><path class="br" d="M403,1104H423"/><text class="sc" x="413" y="1112">0.008</text></g>
<g id="MP-taxa" class="tx" font-size="5.2">
<text id="MP-t0" class="bl" font-size="5.5" x="621" y="1019">A_goose_Xinjiang_011_2017_H5N6</text>
<text id="MP-t1" class="bl" font-size="5.5" x="621" y="1028">A_goose_Xinjiang_012_2017_H5N6</text>
<text id="MP-t2" class="bl" font-size="5.5" x="621" y="1037.1">A_goose_Xinjiang_013_2017_H5N6</text>
<text id="MP-t3" class="bl" font-size="5.5" x="621" y="1046.1">A_goose_Xinjiang_014_2017_H5N6</text>
<text id="MP-t4" class="bl" font-size="5.5" x="621" y="1055.1">A_goose_Xinjiang_015_2017_H5N6</text>
<text id="MP-t5" class="bl" font-size="5.5" x="621" y="1064.2">A_duck_Xinjiang_016_2017_H5N6</text>
<text id="MP-t6" class="bl" font-size="5.5" x="621" y="1073.2">A_goose_Xinjiang_018_2017_H5N6</text>
<text id="MP-t7" class="bl" font-size="5.5" x="621" y="1082.2">A_goose_Xinjiang_019_2017_H5N6</text>
<text id="MP-t8" class="bl" font-size="5.5" x="621" y="1091.2">A_goose_Xinjiang_017_2017_H5N6</text>
<text id="MP-t9" x="621" y="1100.3">A_Cygnus_atratus_Hubei_HF-1_2016_H5N8</text>
<text id="MP-t10" x="621" y="1109.3">A_Cygnus_atratus_Hubei_2Z2-O_2016_H5N8</text>
<text id="MP-t11" x="621" y="1118.3">A_Whooper_Swan_Sanmenxia_01_2016_H5N8</text>
<text id="MP-t12" x="621" y="1127.4">A_whooper_swan_Shanxi_RC01_2016_H5N8</text>
<text id="MP-t13" x="621" y="1136.4">A_duck_India_10CA01_2016_H5N8</text>
<text id="MP-t14" x="621" y="1145.4">A_grey-headed_gull_Uganda_MUWRP-538_2017_H5N8</text>
<text id="MP-t15" x="621" y="1154.5">A_chicken_Uganda_17RS115-15_2017_H5N8</text>
<text id="MP-t16" x="621" y="1163.5">A_duck_Cameroon_17RS1661-3_2017_H5N8</text>
<text id="MP-t17" x="621" y="1172.5">A_Duck_Egypt_AR518_2017_H5N8</text>
<text id="MP-t18" x="621" y="1181.5">A_chicken_Egypt_Q13804A_2017_H5N8</text>
<text id="MP-t19" x="621" y="1190.6">A_Duck_Egypt_AR518_2017_H5N8_2</text>
<text id="MP-t20" x="621" y="1199.6">A_little_grebe_Egypt_1056OP_2016_H5N8</text>
<text id="MP-t21" x="621" y="1208.6">A_domestic_duck_Siberia_49_feather_2016_H5N8</text>
<text id="MP-t22" x="621" y="1217.7">A_Anser_cygnoides_Hubei_FW44_2016_H5N8</text>
<text id="MP-t23" x="621" y="1226.7">A_great_crested_grebe_Tyva_34_2016_H5N8</text>
<text id="MP-t24" x="621" y="1235.7">A_wild_duck_Tyva_35_2016_H5N8</text>
<text id="MP-t25" x="621" y="1244.8">A_great_crested_grebe_Uvs-Nuur_Lake_341_2016_H5N8</text>
<text id="MP-t26" x="621" y="1253.8">A_duck_Jiangsu_m234_2012_H5N2</text>
<text id="MP-t27" x="621" y="1262.8">A_duck_Zhejiang_925169_2014_H5N8</text>
<text id="MP-t28" x="621" y="1271.8">A_duck_Eastern_China_S1109_2014_H5N8</text>
<text id="MP-t29" x="621" y="1280.9">A_duck_Eastern_China_S1210_2013_H5N8</text>
<text id="MP-t30" x="621" y="1289.9">A_duck_Eastern_China_L1021_2012_H5N8</text>
<text id="MP-t31" x="621" y="1298.9">A_goose_Eastern_China_S0408_2014_H5N8</text>
<text id="MP-t32" x="621" y="1308">A_Baikal_teal_Korea_H52_2014_H5N8</text>
<text id="MP-t33" x="621" y="1317">A_duck_Zhejiang_W24_2013_H5N8</text>
<text id="MP-t34" x="621" y="1326">A_duck_Zhejiang_6D18_2013_H5N8</text>
<text id="MP-t35" x="621" y="1335">A_duck_Jiangsu_k1203_2010_H5N8</text>
</g>
</g>
</svg>
